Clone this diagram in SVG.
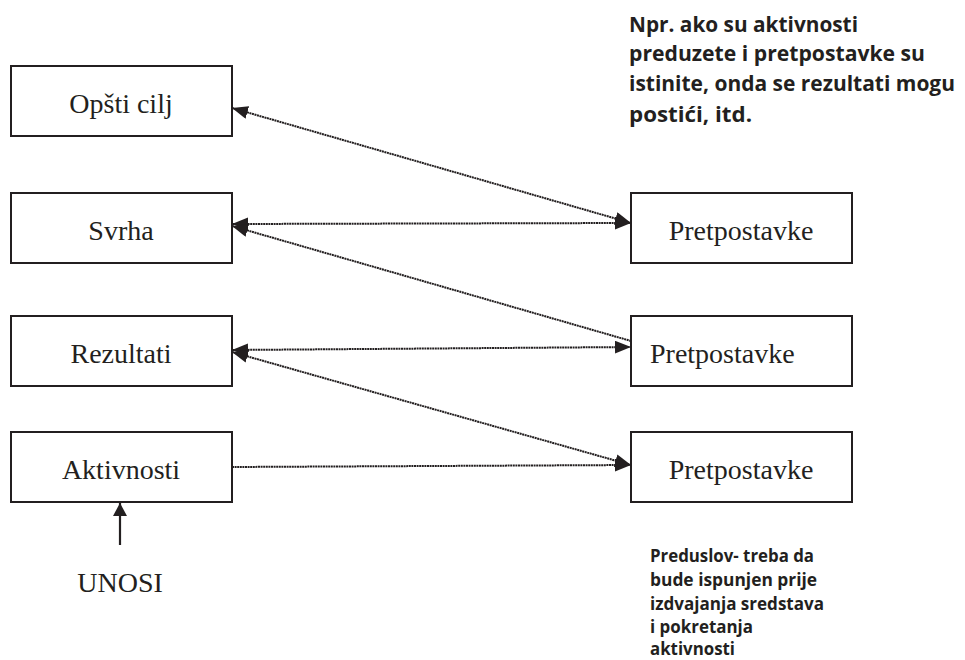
<svg xmlns="http://www.w3.org/2000/svg" width="965" height="660" viewBox="0 0 965 660">
  <style>
    .box { fill: #ffffff; stroke: #231f20; stroke-width: 2; }
    .lbl { font-family: "Liberation Serif", "Times New Roman", serif; font-size: 28px; fill: #231f20; }
    .lbl-c { text-anchor: middle; }
    .note { font-family: "Open Sans", "Noto Sans", "Liberation Sans", sans-serif; font-weight: bold; fill: #231f20; }
    .link { fill: none; stroke: #231f20; stroke-width: 2; stroke-dasharray: 2 0.6; }
    .input { fill: none; stroke: #231f20; stroke-width: 2.2; }
  </style>
  <defs>
    <marker id="arrow" markerUnits="userSpaceOnUse" markerWidth="17" markerHeight="13" refX="16" refY="6.5" orient="auto-start-reverse">
      <path d="M0,0 L16,6.5 L0,13 z" fill="#231f20"/>
    </marker>
    <marker id="arrow-in" markerUnits="userSpaceOnUse" markerWidth="15" markerHeight="14" refX="13" refY="7" orient="auto">
      <path d="M0,0 L13,7 L0,14 z" fill="#231f20"/>
    </marker>
  </defs>

  <rect width="965" height="660" fill="#ffffff"/>

  <!-- logical framework levels -->
  <g id="opsti-cilj">
    <rect class="box" x="11" y="66" width="221" height="70"/>
    <text class="lbl lbl-c" x="121" y="113">Opšti cilj</text>
  </g>
  <g id="svrha">
    <rect class="box" x="11" y="193" width="221" height="70"/>
    <text class="lbl lbl-c" x="121" y="240">Svrha</text>
  </g>
  <g id="rezultati">
    <rect class="box" x="11" y="316" width="221" height="70"/>
    <text class="lbl lbl-c" x="121" y="363">Rezultati</text>
  </g>
  <g id="aktivnosti">
    <rect class="box" x="11" y="432" width="221" height="70"/>
    <text class="lbl lbl-c" x="121" y="479">Aktivnosti</text>
  </g>

  <!-- assumptions -->
  <g id="pretpostavke-1">
    <rect class="box" x="631" y="193" width="221" height="70"/>
    <text class="lbl lbl-c" x="741" y="240">Pretpostavke</text>
  </g>
  <g id="pretpostavke-2">
    <rect class="box" x="631" y="316" width="221" height="70"/>
    <text class="lbl" x="650" y="363">Pretpostavke</text>
  </g>
  <g id="pretpostavke-3">
    <rect class="box" x="631" y="432" width="221" height="70"/>
    <text class="lbl lbl-c" x="741" y="479">Pretpostavke</text>
  </g>

  <!-- inputs -->
  <g id="unosi">
    <text class="lbl" x="120" y="592" text-anchor="middle" font-size="24">UNOSI</text>
  </g>

  <g id="connectors">
    <line class="link" x1="232" y1="108" x2="631" y2="223" marker-start="url(#arrow)" marker-end="url(#arrow)"/>
    <line class="link" x1="232" y1="224" x2="631" y2="223" marker-start="url(#arrow)" marker-end="url(#arrow)"/>
    <line class="link" x1="232" y1="226" x2="631" y2="341" marker-start="url(#arrow)"/>
    <line class="link" x1="232" y1="350" x2="631" y2="347" marker-start="url(#arrow)" marker-end="url(#arrow)"/>
    <line class="link" x1="232" y1="352" x2="631" y2="465" marker-start="url(#arrow)" marker-end="url(#arrow)"/>
    <line class="link" x1="232" y1="467" x2="631" y2="465" marker-end="url(#arrow)"/>
    <line class="input" x1="120" y1="545" x2="120" y2="503" marker-end="url(#arrow-in)"/>
  </g>

  <!-- explanatory notes -->
  <g id="napomena-logika">
    <text class="note" font-size="22">
      <tspan x="629" y="32" textLength="229" lengthAdjust="spacingAndGlyphs">Npr. ako su aktivnosti</tspan>
      <tspan x="629" y="61" textLength="296" lengthAdjust="spacingAndGlyphs">preduzete i pretpostavke su</tspan>
      <tspan x="629" y="91" textLength="326" lengthAdjust="spacingAndGlyphs">istinite, onda se rezultati mogu</tspan>
      <tspan x="629" y="122" textLength="123" lengthAdjust="spacingAndGlyphs">postići, itd.</tspan>
    </text>
  </g>
  <g id="napomena-preduslov">
    <text class="note" font-size="18">
      <tspan x="650" y="562" textLength="164" lengthAdjust="spacingAndGlyphs">Preduslov- treba da</tspan>
      <tspan x="650" y="586" textLength="167" lengthAdjust="spacingAndGlyphs">bude ispunjen prije</tspan>
      <tspan x="650" y="610" textLength="174" lengthAdjust="spacingAndGlyphs">izdvajanja sredstava</tspan>
      <tspan x="650" y="633" textLength="103" lengthAdjust="spacingAndGlyphs">i pokretanja</tspan>
      <tspan x="650" y="655" textLength="85" lengthAdjust="spacingAndGlyphs">aktivnosti</tspan>
    </text>
  </g>
</svg>
